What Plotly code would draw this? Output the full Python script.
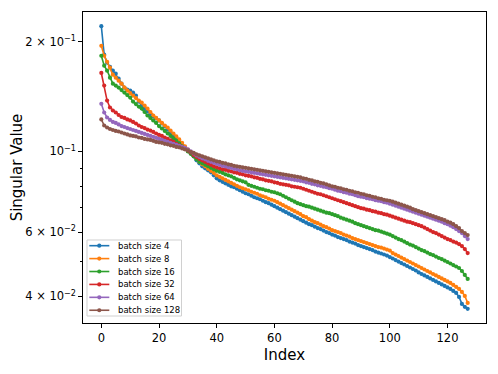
import plotly.graph_objects as go

index = list(range(128))

bs4 = [0.2208, 0.1843, 0.1752, 0.1708, 0.1666, 0.1635, 0.1584, 0.1535, 0.1497, 0.1478,
       0.1469, 0.1451, 0.1423, 0.1370, 0.1336, 0.1311, 0.1287, 0.1263, 0.1247, 0.1232,
       0.1216, 0.1193, 0.1171, 0.1148, 0.1127, 0.1106, 0.1086, 0.1065, 0.1046, 0.1026,
       0.1006, 0.09876, 0.09691, 0.09449, 0.09273, 0.09099, 0.08986, 0.08872, 0.08762, 0.08596,
       0.08436, 0.08330, 0.08252, 0.08174, 0.08097, 0.08021, 0.07971, 0.07896, 0.07821, 0.07748,
       0.07675, 0.07627, 0.07555, 0.07484, 0.07437, 0.07390, 0.07320, 0.07252, 0.07207, 0.07139,
       0.07072, 0.07005, 0.06939, 0.06874, 0.06809, 0.06745, 0.06681, 0.06619, 0.06557, 0.06495,
       0.06434, 0.06374, 0.06313, 0.06273, 0.06215, 0.06157, 0.06118, 0.06060, 0.06003, 0.05966,
       0.05909, 0.05872, 0.05817, 0.05780, 0.05744, 0.05707, 0.05654, 0.05619, 0.05583, 0.05530,
       0.05496, 0.05462, 0.05427, 0.05393, 0.05359, 0.05309, 0.05276, 0.05243, 0.05210, 0.05177,
       0.05128, 0.05080, 0.05031, 0.04984, 0.04937, 0.04891, 0.04845, 0.04800, 0.04754, 0.04709,
       0.04651, 0.04607, 0.04564, 0.04521, 0.04479, 0.04436, 0.04395, 0.04353, 0.04312, 0.04271,
       0.04232, 0.04192, 0.04139, 0.04087, 0.03986, 0.03813, 0.03742, 0.03695]

bs8 = [0.1950, 0.1831, 0.1763, 0.1698, 0.1624, 0.1594, 0.1564, 0.1535, 0.1497, 0.1469,
       0.1446, 0.1423, 0.1401, 0.1379, 0.1362, 0.1336, 0.1311, 0.1283, 0.1255, 0.1236,
       0.1216, 0.1197, 0.1178, 0.1163, 0.1141, 0.1120, 0.1099, 0.1079, 0.1056, 0.1032,
       0.1012, 0.09938, 0.09751, 0.09540, 0.09361, 0.09215, 0.09099, 0.08957, 0.08844, 0.08734,
       0.08596, 0.08516, 0.08436, 0.08357, 0.08278, 0.08200, 0.08123, 0.08046, 0.07971, 0.07921,
       0.07871, 0.07821, 0.07748, 0.07700, 0.07651, 0.07578, 0.07531, 0.07484, 0.07414, 0.07367,
       0.07320, 0.07252, 0.07184, 0.07116, 0.07050, 0.06983, 0.06917, 0.06852, 0.06788, 0.06724,
       0.06640, 0.06598, 0.06515, 0.06454, 0.06394, 0.06353, 0.06293, 0.06234, 0.06195, 0.06137,
       0.06079, 0.06041, 0.06003, 0.05966, 0.05909, 0.05872, 0.05835, 0.05780, 0.05744, 0.05707,
       0.05672, 0.05636, 0.05601, 0.05565, 0.05530, 0.05496, 0.05462, 0.05445, 0.05410, 0.05376,
       0.05342, 0.05259, 0.05209, 0.05161, 0.05112, 0.05063, 0.05015, 0.04969, 0.04922, 0.04875,
       0.04830, 0.04784, 0.04739, 0.04695, 0.04651, 0.04607, 0.04564, 0.04521, 0.04479, 0.04436,
       0.04395, 0.04353, 0.04298, 0.04245, 0.04192, 0.04113, 0.04011, 0.03837]

bs16 = [0.1831, 0.1719, 0.1666, 0.1594, 0.1535, 0.1516, 0.1497, 0.1474, 0.1451, 0.1428,
        0.1405, 0.1370, 0.1349, 0.1328, 0.1311, 0.1283, 0.1255, 0.1236, 0.1216, 0.1197,
        0.1174, 0.1156, 0.1138, 0.1120, 0.1103, 0.1086, 0.1069, 0.1052, 0.1032, 0.1016,
        0.1000, 0.09845, 0.09691, 0.09509, 0.09361, 0.09273, 0.09185, 0.09099, 0.09014, 0.08929,
        0.08844, 0.08789, 0.08734, 0.08651, 0.08596, 0.08543, 0.08463, 0.08383, 0.08330, 0.08278,
        0.08226, 0.08097, 0.08046, 0.07996, 0.07946, 0.07896, 0.07871, 0.07821, 0.07797, 0.07748,
        0.07724, 0.07675, 0.07627, 0.07555, 0.07484, 0.07414, 0.07343, 0.07275, 0.07207, 0.07161,
        0.07116, 0.07072, 0.07050, 0.07005, 0.06961, 0.06917, 0.06874, 0.06831, 0.06788, 0.06767,
        0.06724, 0.06681, 0.06640, 0.06578, 0.06536, 0.06495, 0.06454, 0.06414, 0.06353, 0.06313,
        0.06273, 0.06234, 0.06195, 0.06157, 0.06118, 0.06079, 0.06060, 0.06022, 0.05984, 0.05947,
        0.05909, 0.05853, 0.05799, 0.05744, 0.05707, 0.05654, 0.05601, 0.05548, 0.05513, 0.05462,
        0.05410, 0.05359, 0.05326, 0.05276, 0.05226, 0.05193, 0.05144, 0.05096, 0.05063, 0.05015,
        0.04969, 0.04922, 0.04875, 0.04830, 0.04784, 0.04695, 0.04578, 0.04464]

bs32 = [0.1642, 0.1516, 0.1379, 0.1320, 0.1295, 0.1279, 0.1259, 0.1243, 0.1236, 0.1224,
        0.1216, 0.1205, 0.1193, 0.1178, 0.1167, 0.1159, 0.1148, 0.1141, 0.1131, 0.1120,
        0.1110, 0.1103, 0.1092, 0.1082, 0.1072, 0.1062, 0.1049, 0.1039, 0.1029, 0.1016,
        0.1006, 0.09938, 0.09782, 0.09660, 0.09540, 0.09449, 0.09361, 0.09273, 0.09185, 0.09099,
        0.09042, 0.08986, 0.08929, 0.08901, 0.08844, 0.08817, 0.08762, 0.08734, 0.08679, 0.08651,
        0.08596, 0.08569, 0.08543, 0.08490, 0.08463, 0.08410, 0.08383, 0.08330, 0.08304, 0.08278,
        0.08226, 0.08200, 0.08149, 0.08123, 0.08097, 0.08071, 0.08021, 0.07996, 0.07971, 0.07946,
        0.07896, 0.07846, 0.07797, 0.07748, 0.07700, 0.07651, 0.07627, 0.07578, 0.07531, 0.07484,
        0.07437, 0.07390, 0.07343, 0.07298, 0.07252, 0.07207, 0.07161, 0.07116, 0.07072, 0.07028,
        0.06983, 0.06961, 0.06917, 0.06895, 0.06852, 0.06831, 0.06788, 0.06767, 0.06724, 0.06702,
        0.06660, 0.06619, 0.06578, 0.06536, 0.06495, 0.06454, 0.06414, 0.06394, 0.06353, 0.06313,
        0.06273, 0.06234, 0.06176, 0.06118, 0.06060, 0.06003, 0.05966, 0.05909, 0.05853, 0.05799,
        0.05744, 0.05707, 0.05654, 0.05619, 0.05565, 0.05496, 0.05393, 0.05259]

bs64 = [0.1351, 0.1279, 0.1239, 0.1220, 0.1205, 0.1197, 0.1186, 0.1174, 0.1167, 0.1159,
        0.1152, 0.1145, 0.1138, 0.1131, 0.1124, 0.1117, 0.1110, 0.1103, 0.1096, 0.1089,
        0.1082, 0.1075, 0.1069, 0.1062, 0.1056, 0.1049, 0.1042, 0.1036, 0.1029, 0.1022,
        0.1013, 0.1000, 0.09876, 0.09751, 0.09660, 0.09570, 0.09509, 0.09420, 0.09361, 0.09303,
        0.09244, 0.09185, 0.09128, 0.09099, 0.09042, 0.09014, 0.08957, 0.08929, 0.08872, 0.08844,
        0.08817, 0.08789, 0.08762, 0.08734, 0.08706, 0.08679, 0.08651, 0.08624, 0.08596, 0.08569,
        0.08543, 0.08516, 0.08490, 0.08463, 0.08436, 0.08410, 0.08383, 0.08357, 0.08330, 0.08304,
        0.08278, 0.08226, 0.08200, 0.08149, 0.08123, 0.08071, 0.08046, 0.07996, 0.07971, 0.07921,
        0.07896, 0.07846, 0.07797, 0.07772, 0.07724, 0.07700, 0.07651, 0.07627, 0.07578, 0.07531,
        0.07508, 0.07484, 0.07437, 0.07414, 0.07390, 0.07343, 0.07320, 0.07298, 0.07252, 0.07230,
        0.07184, 0.07139, 0.07094, 0.07050, 0.07005, 0.06961, 0.06917, 0.06874, 0.06831, 0.06788,
        0.06745, 0.06702, 0.06660, 0.06619, 0.06578, 0.06536, 0.06495, 0.06454, 0.06414, 0.06353,
        0.06313, 0.06254, 0.06195, 0.06118, 0.06041, 0.05966, 0.05853, 0.05744]

bs128 = [0.1224, 0.1178, 0.1163, 0.1152, 0.1145, 0.1138, 0.1134, 0.1127, 0.1120, 0.1113,
         0.1106, 0.1103, 0.1099, 0.1092, 0.1089, 0.1082, 0.1079, 0.1075, 0.1069, 0.1062,
         0.1059, 0.1056, 0.1049, 0.1046, 0.1039, 0.1036, 0.1029, 0.1026, 0.1019, 0.1013,
         0.1006, 0.09969, 0.09907, 0.09813, 0.09751, 0.09691, 0.09630, 0.09570, 0.09509, 0.09449,
         0.09390, 0.09361, 0.09303, 0.09273, 0.09215, 0.09185, 0.09128, 0.09099, 0.09071, 0.09042,
         0.09014, 0.08986, 0.08957, 0.08929, 0.08901, 0.08872, 0.08844, 0.08817, 0.08789, 0.08762,
         0.08734, 0.08706, 0.08679, 0.08651, 0.08624, 0.08596, 0.08569, 0.08543, 0.08516, 0.08490,
         0.08436, 0.08410, 0.08357, 0.08330, 0.08278, 0.08252, 0.08200, 0.08174, 0.08123, 0.08071,
         0.08021, 0.07996, 0.07946, 0.07921, 0.07871, 0.07846, 0.07797, 0.07772, 0.07724, 0.07700,
         0.07651, 0.07627, 0.07578, 0.07555, 0.07508, 0.07484, 0.07437, 0.07414, 0.07367, 0.07343,
         0.07320, 0.07275, 0.07230, 0.07184, 0.07139, 0.07094, 0.07050, 0.07005, 0.06939, 0.06895,
         0.06852, 0.06809, 0.06767, 0.06724, 0.06681, 0.06640, 0.06598, 0.06557, 0.06515, 0.06474,
         0.06414, 0.06374, 0.06313, 0.06234, 0.06157, 0.06041, 0.05966, 0.05890]

series_names = ["batch size 4", "batch size 8", "batch size 16",
                "batch size 32", "batch size 64", "batch size 128"]
series_values = [bs4, bs8, bs16, bs32, bs64, bs128]
colors = ["#1f77b4", "#ff7f0e", "#2ca02c", "#d62728", "#9467bd", "#8c564b"]

y_major_vals = [0.04, 0.06, 0.1, 0.2]
y_major_text = ["4 × 10<sup>−2</sup>", "6 × 10<sup>−2</sup>",
                "10<sup>−1</sup>", "2 × 10<sup>−1</sup>"]
y_minor_vals = [0.05, 0.07, 0.08, 0.09]
x_tick_vals = [0, 20, 40, 60, 80, 100, 120]

FONT = "DejaVu Sans"

fig = go.Figure()
for name, vals, col in zip(series_names, series_values, colors):
    fig.add_trace(go.Scatter(
        x=index, y=vals, mode="lines+markers", name=name,
        line=dict(color=col, width=1.6),
        marker=dict(color=col, size=4.2, line=dict(width=0)),
        showlegend=False,
    ))

# compact matplotlib-style legend drawn in paper coordinates
shapes = [dict(type="rect", xref="paper", yref="paper",
               x0=0.0099, x1=0.2444, y0=0.0225, y1=0.2669,
               line=dict(color="#d0d0d0", width=1), fillcolor="rgba(255,255,255,0.85)",
               layer="above")]
annotations = []
row_top = 0.2486
row_step = 0.04152
for k, (name, col) in enumerate(zip(series_names, colors)):
    yk = row_top - k * row_step
    shapes.append(dict(type="line", xref="paper", yref="paper",
                       x0=0.0156, x1=0.0653, y0=yk, y1=yk,
                       line=dict(color=col, width=1.6), layer="above"))
    shapes.append(dict(type="circle", xref="paper", yref="paper",
                       x0=0.0404 - 0.0052, x1=0.0404 + 0.0052,
                       y0=yk - 0.0067, y1=yk + 0.0067,
                       line=dict(width=0), fillcolor=col, layer="above"))
    annotations.append(dict(xref="paper", yref="paper", x=0.0810, y=yk,
                            xanchor="left", yanchor="middle", text=name,
                            showarrow=False,
                            font=dict(family=FONT, size=8.5, color="black")))

# the page body adds an 8px offset, so the figure is 8px smaller and margins shifted
fig.update_layout(
    width=490, height=366,
    margin=dict(l=75, r=12, t=4, b=51, autoexpand=False),
    paper_bgcolor="white", plot_bgcolor="white",
    font=dict(family=FONT, color="black", size=11),
    shapes=shapes, annotations=annotations,
    showlegend=False,
)
fig.update_xaxes(
    range=[-6.35, 133.35], tickvals=x_tick_vals,
    ticks="outside", ticklen=3.8, tickwidth=0.9, tickcolor="black",
    showline=True, mirror=True, linecolor="black", linewidth=0.9,
    showgrid=False, zeroline=False,
    tickfont=dict(family=FONT, size=11.5, color="black"),
    title=dict(text="Index", font=dict(family=FONT, size=15, color="black"), standoff=5),
)
fig.update_yaxes(
    type="log", range=[-1.4712, -0.6172],
    tickvals=y_major_vals, ticktext=y_major_text,
    ticks="outside", ticklen=3.8, tickwidth=0.9, tickcolor="black",
    minor=dict(tickvals=y_minor_vals, ticks="outside", ticklen=2.2,
               tickwidth=0.7, tickcolor="black", showgrid=False),
    showline=True, mirror=True, linecolor="black", linewidth=0.9,
    showgrid=False, zeroline=False,
    tickfont=dict(family=FONT, size=11.5, color="black"),
    title=dict(text="Singular Value", font=dict(family=FONT, size=15, color="black"), standoff=6),
)

fig.write_html("out.html")
